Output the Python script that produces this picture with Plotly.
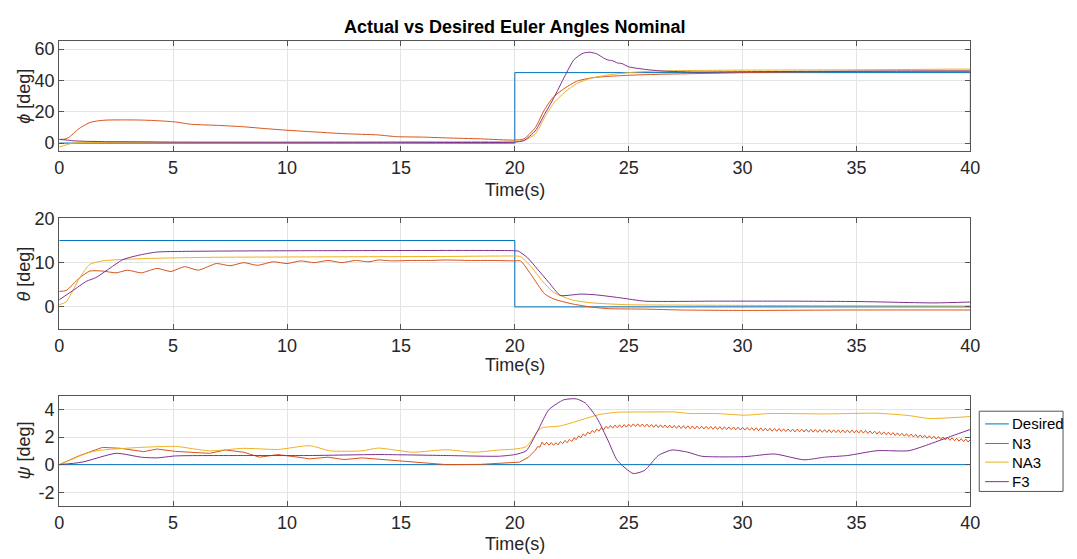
import plotly.graph_objects as go

# ---------------- data ----------------
# Desired
des_phi_t = [0, 20, 20, 40, 40]
des_phi_v = [0, 0, 45, 45, 0]
des_theta_t = [0, 20, 20, 40]
des_theta_v = [15, 15, 0, 0]
des_psi_t = [0, 40]
des_psi_v = [0, 0]

# phi
n3_phi_t = [0, 0.3, 0.5, 0.75, 1.0, 1.34, 1.7, 2.1, 3.0, 3.6, 4.3, 5.1, 5.8, 7.0, 8.1, 9.0, 10.0, 11.0,
            12.5, 14.0, 14.8, 16.0, 17.0, 18.5, 20.0, 20.4, 20.9, 21.3, 21.7, 22.2, 22.7, 23.3, 24.0, 25.0,
            26.0, 28.0, 30.0, 32.0, 35.0, 38.0, 40.0]
n3_phi_v = [2.3, 2.7, 4.5, 7.9, 10.5, 13.1, 14.2, 14.7, 14.8, 14.7, 14.3, 13.5, 12.0, 11.3, 10.4, 9.3, 8.2, 7.3,
            6.0, 5.2, 4.1, 3.8, 3.3, 2.7, 1.9, 2.7, 9.9, 21.3, 29.5, 35.1, 39.4, 41.5, 42.5, 43.3,
            43.8, 44.4, 45.0, 45.4, 45.8, 46.0, 46.0]
na3_phi_t = [0, 0.3, 0.6, 1.0, 2, 5, 10, 15, 20, 20.4, 20.9, 21.3, 21.7, 22.2, 22.7, 23.3, 24.0, 25.0, 26.0,
             28.0, 30, 35, 40]
na3_phi_v = [-2.5, -1.2, 0.0, 0.3, 0.4, 0.5, 0.6, 0.8, 1.2, 1.6, 5.8, 16.1, 25.4, 32.6, 37.8, 41.3, 43.3, 45.0,
             45.9, 46.4, 46.6, 46.8, 47.3]
f3_phi_t = [0, 0.3, 0.6, 1.0, 2.1, 3.6, 5, 10, 15, 20, 20.4, 20.9, 21.3, 21.7, 22.2, 22.6, 23.0, 23.3, 23.6,
            23.9, 24.1, 24.3, 24.5, 24.7, 25.0, 25.7, 26.5, 27.9, 30, 35, 40]
f3_phi_v = [2.3, 2.0, 1.5, 1.2, 0.9, 0.8, 0.6, 0.5, 0.5, 0.6, 1.6, 7.8, 18.2, 28.5, 42.9, 53.3, 57.4, 58.0, 57.0,
            54.3, 53.0, 52.6, 51.2, 50.8, 48.7, 47.1, 46.0, 45.4, 45.6, 45.9, 46.0]

# theta
n3_theta_t = [0, 0.3, 0.9, 1.34, 1.9, 2.5, 3.0, 3.6, 4.3, 4.9, 5.5, 6.1, 6.9, 7.5, 8.1, 8.7, 9.4, 10.0, 10.6,
              11.2, 11.8, 12.4, 13.0, 13.6, 14.0, 14.6, 15.5, 16.3, 17.0, 18.0, 19.0, 20.0, 20.25, 20.7, 21.3,
              21.7, 22.5, 23.3, 24.1, 25.7, 27.3, 30, 35, 40]
n3_theta_v = [3.5, 3.7, 6.6, 8.1, 8.1, 7.7, 8.3, 7.7, 8.7, 8.0, 9.1, 8.3, 9.8, 9.3, 10.0, 9.4, 10.2, 9.8, 10.4,
              10.0, 10.5, 10.0, 10.5, 10.2, 10.6, 10.4, 10.5, 10.5, 10.6, 10.5, 10.5, 10.4, 10.4, 7.4, 3.0,
              1.8, 0.7, 0.0, -0.4, -0.5, -0.7, -0.8, -0.7, -0.7]
na3_theta_t = [0, 0.3, 0.6, 0.9, 1.34, 1.9, 3.6, 6.6, 11, 17, 20, 20.24, 20.7, 21.2, 21.7, 22.5, 23.3, 24.9,
               27.3, 32, 40]
na3_theta_v = [0.5, 1.1, 3.7, 6.6, 9.6, 10.4, 10.9, 11.2, 11.3, 11.4, 11.5, 11.4, 9.2, 5.9, 3.3, 1.6, 0.95, 0.5,
               0.4, 0.3, 0.2]
f3_theta_t = [0, 0.6, 1.2, 1.6, 2.1, 2.8, 3.6, 4.3, 6.6, 11, 20, 20.16, 20.56, 21.0, 21.5, 22.0, 22.5, 22.9,
              23.6, 24.7, 25.7, 28.8, 32, 35.2, 38.4, 40]
f3_theta_v = [1.6, 3.7, 5.8, 6.6, 8.3, 10.7, 11.8, 12.4, 12.6, 12.7, 12.7, 12.6, 11.1, 8.5, 5.5, 2.6, 2.7, 2.9,
              2.7, 2.0, 1.3, 1.3, 1.3, 1.2, 0.9, 1.1]

# psi
na3_psi_t = [0, 1.34, 1.9, 3.6, 5.1, 6.6, 8.1, 9.6, 11, 11.9, 13.3, 14, 15.5, 17, 18.2, 19.3, 20, 20.5, 21.0,
             21.2, 22.0, 23.7, 24.5, 25.7, 27.0, 27.7, 28.8, 30.1, 31.2, 33.6, 35.9, 37.3, 38.2, 40]
na3_psi_v = [0, 0.9, 1.06, 1.25, 1.32, 1.0, 1.18, 1.1, 1.37, 1.0, 1.0, 1.2, 0.9, 1.08, 0.9, 1.06, 1.13, 1.3, 2.4,
             2.67, 2.8, 3.62, 3.79, 3.81, 3.81, 3.7, 3.7, 3.58, 3.7, 3.67, 3.72, 3.55, 3.34, 3.48]
n3_psi_early_t = [0, 0.9, 1.9, 2.7, 3.7, 4.3, 5.1, 6.6, 7.3, 8.1, 8.8, 9.6, 10.3, 11, 11.8, 12.5, 13.3, 14.8,
                  16.3, 17, 18.5, 19.7, 20.2, 20.6, 20.7, 20.8, 20.9]
n3_psi_early_v = [0, 0.66, 1.25, 1.18, 0.94, 1.13, 0.96, 0.82, 1.06, 0.9, 0.54, 0.73, 0.58, 0.42, 0.54, 0.37,
                  0.49, 0.3, 0.14, 0.0, 0.02, 0.14, 0.18, 0.54, 0.71, 0.87, 1.04]
# oscillating part, sampled every 0.1 s from t = 21.0 to 40.0
n3_psi_osc_start = 21.0
n3_psi_osc_step = 0.1
n3_psi_osc_v = [
    1.30, 1.27, 1.63, 1.42, 1.62, 1.41, 1.60, 1.40, 1.59, 1.43, 1.67, 1.51, 1.75, 1.59, 1.83, 1.67, 1.94, 1.81,
    2.08, 1.95, 2.22, 2.08, 2.35, 2.22, 2.47, 2.32, 2.57, 2.42, 2.67, 2.52, 2.77, 2.62, 2.83, 2.64, 2.86, 2.67,
    2.88, 2.69, 2.90, 2.71, 2.93, 2.74, 2.95, 2.76, 2.95, 2.75, 2.94, 2.73, 2.93, 2.72, 2.91, 2.70, 2.90, 2.69,
    2.88, 2.68, 2.87, 2.66, 2.86, 2.65, 2.84, 2.63, 2.83, 2.62, 2.82, 2.61, 2.81, 2.60, 2.80, 2.59, 2.79, 2.59,
    2.78, 2.58, 2.77, 2.57, 2.77, 2.56, 2.76, 2.55, 2.75, 2.54, 2.74, 2.54, 2.73, 2.53, 2.72, 2.52, 2.71, 2.51,
    2.70, 2.50, 2.69, 2.49, 2.68, 2.47, 2.67, 2.46, 2.66, 2.45, 2.64, 2.44, 2.63, 2.42, 2.62, 2.41, 2.61, 2.40,
    2.59, 2.39, 2.58, 2.38, 2.57, 2.37, 2.57, 2.37, 2.56, 2.36, 2.56, 2.35, 2.55, 2.35, 2.55, 2.34, 2.54, 2.34,
    2.53, 2.33, 2.53, 2.32, 2.52, 2.32, 2.52, 2.31, 2.51, 2.31, 2.51, 2.30, 2.50, 2.30, 2.49, 2.29, 2.49, 2.28,
    2.47, 2.25, 2.44, 2.23, 2.42, 2.21, 2.40, 2.18, 2.37, 2.16, 2.35, 2.14, 2.32, 2.11, 2.30, 2.09, 2.27, 2.06,
    2.24, 2.03, 2.21, 2.00, 2.18, 1.97, 2.15, 1.94, 2.12, 1.91, 2.09, 1.88, 2.06, 1.85, 2.03, 1.82, 2.00, 1.79,
    1.97, 1.76, 1.94, 1.73, 1.91, 1.70, 1.88, 1.67, 1.85, 1.64, 1.82]
f3_psi_t = [0, 1.0, 2.5, 3.6, 4.3, 5.1, 8.1, 11, 14, 17, 19.3, 20, 20.5, 21, 21.5, 22.15, 22.7, 23.1, 23.6, 24.1,
            24.5, 25.2, 25.7, 26.3, 26.9, 27.6, 28.2, 30.1, 31.4, 32.7, 33.6, 34.6, 35.9, 37.3, 38.4, 39.2, 40]
f3_psi_v = [0, 0.18, 0.82, 0.54, 0.49, 0.63, 0.66, 0.66, 0.73, 0.66, 0.61, 0.73, 1.0, 2.44, 3.98, 4.69, 4.76, 4.45,
            3.39, 1.72, 0.31, -0.64, -0.41, 0.66, 1.06, 0.9, 0.61, 0.58, 0.77, 0.35, 0.54, 0.66, 1.01, 1.01, 1.6,
            2.08, 2.55]

n3_psi_t = n3_psi_early_t + [round(n3_psi_osc_start + n3_psi_osc_step * i, 2) for i in range(len(n3_psi_osc_v))]
n3_psi_v = n3_psi_early_v + n3_psi_osc_v

series_names = ["Desired", "N3", "NA3", "F3"]
colors = ["#0072BD", "#D95319", "#EDB120", "#7E2F8E"]

panels = [
    [(des_phi_t, des_phi_v), (n3_phi_t, n3_phi_v), (na3_phi_t, na3_phi_v), (f3_phi_t, f3_phi_v)],
    [(des_theta_t, des_theta_v), (n3_theta_t, n3_theta_v), (na3_theta_t, na3_theta_v), (f3_theta_t, f3_theta_v)],
    [(des_psi_t, des_psi_v), (n3_psi_t, n3_psi_v), (na3_psi_t, na3_psi_v), (f3_psi_t, f3_psi_v)],
]
y_ranges = [[-5, 65], [-5, 20], [-3, 5]]
y_ticks = [[0, 20, 40, 60], [0, 10, 20], [-2, 0, 2, 4]]
y_ticktext = [["0", "20", "40", "60"], ["0", "10", "20"], ["-2", "0", "2", "4"]]
y_titles = ["<i>ϕ</i> [deg]", "<i>θ</i> [deg]", "<i>ψ</i> [deg]"]
x_ticks = [0, 5, 10, 15, 20, 25, 30, 35, 40]
title_text = "<b>Actual vs Desired Euler Angles Nominal</b>"
x_title_text = "Time(s)"

# ---------------- layout geometry ----------------
W, H = 1077, 559


def px(x):
    return x / W


def py(y):
    return 1 - y / H


x_left, x_right = 55, 979
panel_px = [(32, 144), (213, 326), (394, 507)]

fig = go.Figure()
FONT = "Liberation Sans, Arial, Helvetica, sans-serif"
TXT = "#262626"

for p, traces in enumerate(panels):
    xa = "x" if p == 0 else f"x{p+1}"
    ya = "y" if p == 0 else f"y{p+1}"
    for s, (t, v) in enumerate(traces):
        smooth = s != 0 and not (p == 2 and s == 1)
        fig.add_trace(go.Scatter(
            x=t, y=v, mode="lines", name=series_names[s],
            line=dict(color=colors[s], width=1.0,
                      shape="spline" if smooth else "linear", smoothing=0.6 if smooth else None),
            xaxis=xa, yaxis=ya, showlegend=False, hoverinfo="skip"))

axis_common = dict(showline=True, linecolor="#555555", linewidth=1, mirror="ticks",
                   ticks="inside", ticklen=5, tickcolor="#555555", showgrid=True,
                   gridcolor="#e4e4e4", gridwidth=1, zeroline=False,
                   tickfont=dict(family=FONT, size=18, color=TXT))
layout = dict(width=W, height=H, margin=dict(l=0, r=0, t=0, b=0),
              paper_bgcolor="white", plot_bgcolor="white", showlegend=False)
for p in range(3):
    top, bot = panel_px[p]
    xkey = "xaxis" if p == 0 else f"xaxis{p+1}"
    ykey = "yaxis" if p == 0 else f"yaxis{p+1}"
    yanchor = "y" if p == 0 else f"y{p+1}"
    xanchor = "x" if p == 0 else f"x{p+1}"
    layout[xkey] = dict(axis_common, domain=[px(x_left), px(x_right)], range=[0, 40],
                        tickvals=x_ticks, anchor=yanchor)
    layout[ykey] = dict(axis_common, domain=[py(bot), py(top)], range=y_ranges[p],
                        tickvals=y_ticks[p], ticktext=y_ticktext[p], anchor=xanchor)
fig.update_layout(**layout)

annotations = []
annotations.append(dict(text=title_text, x=px(517), y=py(17),
                        xref="paper", yref="paper", showarrow=False, xanchor="center", yanchor="middle",
                        font=dict(family=FONT, size=18, color="black")))
xtitle_y = [184, 363, 546]
for p in range(3):
    top, bot = panel_px[p]
    annotations.append(dict(text=x_title_text, x=px(517), y=py(xtitle_y[p]), xref="paper", yref="paper",
                            showarrow=False, xanchor="center", yanchor="middle",
                            font=dict(family=FONT, size=18, color=TXT)))
    annotations.append(dict(text=y_titles[p], x=px(19), y=py((top + bot) / 2), xref="paper", yref="paper",
                            showarrow=False, xanchor="center", yanchor="middle", textangle=-90,
                            font=dict(family=FONT, size=18, color=TXT)))

# legend box (drawn like the MATLAB legend)
shapes = [dict(type="rect", xref="paper", yref="paper", x0=px(988), x1=px(1073), y0=py(492), y1=py(410),
               line=dict(color="#555555", width=1), fillcolor="white", layer="above")]
legend_rows = [423, 443, 462, 482]
for name, color, ry in zip(series_names, colors, legend_rows):
    shapes.append(dict(type="line", xref="paper", yref="paper", x0=px(994), x1=px(1018), y0=py(ry), y1=py(ry),
                       line=dict(color=color, width=1.0), layer="above"))
    annotations.append(dict(text=name, x=px(1019), y=py(ry), xref="paper", yref="paper", showarrow=False,
                            xanchor="left", yanchor="middle", font=dict(family=FONT, size=15, color="black")))
fig.update_layout(annotations=annotations, shapes=shapes)

fig.write_html("out.html")
